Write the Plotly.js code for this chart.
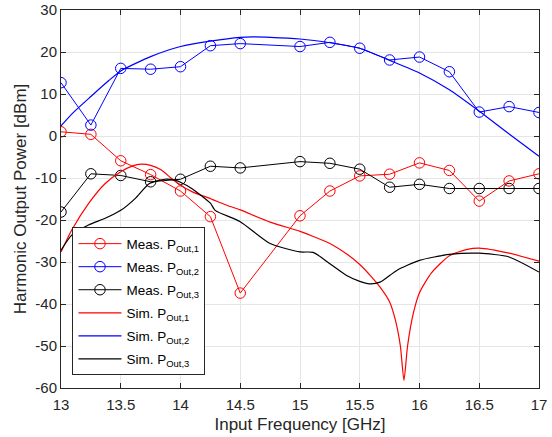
<!DOCTYPE html>
<html>
<head>
<meta charset="utf-8">
<script src="https://cdn.plot.ly/plotly-3.0.1.min.js"></script>
<style>html,body{margin:0;padding:0;background:#fff;}#chart{width:552px;height:437px;}</style>
</head>
<body>
<div id="chart"></div>
<script>
// Measured frequencies (GHz)
const measFreq = [13, 13.25, 13.5, 13.75, 14, 14.25, 14.5, 15, 15.25, 15.5, 15.75, 16, 16.25, 16.5, 16.75, 17];
const measP1 = [1.0, 0.4, -5.9, -9.2, -13.1, -19.2, -37.4, -19.0, -13.1, -9.5, -9.1, -6.4, -8.2, -15.5, -10.7, -9.0];
const measP2 = [12.7, 2.6, 16.1, 15.9, 16.5, 21.5, 22.0, 21.3, 22.3, 20.9, 18.1, 18.8, 15.3, 5.7, 7.0, 5.6];
const measP3 = [-18.1, -9.0, -9.4, -10.9, -10.3, -7.2, -7.6, -6.1, -6.5, -7.9, -12.2, -11.5, -12.5, -12.5, -12.5, -12.5];

// Simulated curves
const simF1 = [13.0, 13.09, 13.23, 13.37, 13.5, 13.6, 13.67, 13.75, 13.84, 13.92, 14.0, 14.1, 14.25, 14.37, 14.5, 14.75, 15.0, 15.1, 15.25, 15.4, 15.5, 15.6, 15.67, 15.75, 15.8, 15.84, 15.87, 15.9, 15.95, 16.0, 16.1, 16.25, 16.4, 16.5, 16.75, 17.0];
const simP1 = [-27.6, -22.4, -16.1, -11.3, -8.5, -7.1, -6.7, -7.0, -8.1, -10.0, -11.7, -13.3, -14.9, -16.3, -17.6, -20.5, -22.7, -23.8, -25.6, -28.3, -30.6, -33.6, -36.0, -39.5, -44.0, -50.0, -58.2, -50.0, -42.0, -37.3, -32.6, -28.5, -27.0, -26.7, -27.9, -29.8];

const simF2 = [13.0, 13.1, 13.25, 13.4, 13.5, 13.75, 14.0, 14.25, 14.5, 14.6, 14.75, 15.0, 15.25, 15.5, 15.75, 16.0, 16.25, 16.5, 16.75, 17.0];
const simP2 = [2.4, 5.5, 9.4, 13.2, 15.5, 18.9, 21.3, 22.6, 23.5, 23.6, 23.5, 23.1, 22.2, 20.9, 18.0, 15.0, 11.0, 5.9, 0.5, -4.8];

const simF3 = [13.0, 13.09, 13.23, 13.37, 13.5, 13.62, 13.74, 13.87, 13.95, 14.0, 14.1, 14.25, 14.29, 14.5, 14.75, 15.0, 15.11, 15.25, 15.39, 15.5, 15.58, 15.67, 15.81, 16.0, 16.25, 16.5, 16.75, 17.0];
const simP3 = [-27.2, -23.6, -21.2, -19.6, -17.7, -14.9, -11.3, -10.3, -10.5, -11.0, -12.6, -16.0, -17.7, -20.4, -25.6, -27.6, -27.7, -30.4, -33.2, -34.6, -35.2, -34.8, -32.0, -29.6, -28.2, -27.9, -28.8, -32.4];

const xTicks = [13, 13.5, 14, 14.5, 15, 15.5, 16, 16.5, 17];
const xTickText = ['13', '13.5', '14', '14.5', '15', '15.5', '16', '16.5', '17'];
const yTicks = [-60, -50, -40, -30, -20, -10, 0, 10, 20, 30];
const yTickText = ['-60', '-50', '-40', '-30', '-20', '-10', '0', '10', '20', '30'];

const names = ['Meas. P<sub>Out,1</sub>', 'Meas. P<sub>Out,2</sub>', 'Meas. P<sub>Out,3</sub>',
               'Sim. P<sub>Out,1</sub>', 'Sim. P<sub>Out,2</sub>', 'Sim. P<sub>Out,3</sub>'];
const colors = ['#ff0000', '#0000ff', '#000000'];

const meas = [measP1, measP2, measP3];
const sims = [[simF1, simP1], [simF2, simP2], [simF3, simP3]];
const traces = [];
meas.forEach((m, i) => {
  traces.push({x: measFreq, y: m, type: 'scatter', mode: 'lines+markers', name: names[i],
    legendgroup: 'g' + i,
    line: {color: colors[i], width: 1},
    marker: {symbol: 'circle-open', size: 10.5, color: colors[i], line: {width: 1}}});
});
sims.forEach((s, i) => {
  traces.push({x: s[0], y: s[1], type: 'scatter', mode: 'lines', name: names[i + 3],
    legendgroup: 'g' + (i + 3),
    line: {color: colors[i], width: 1.2, shape: 'spline', smoothing: 0.6}});
});

const axisCommon = {
  showline: true, mirror: 'ticks', linecolor: '#262626', linewidth: 1,
  ticks: 'inside', ticklen: 5, tickcolor: '#262626',
  showgrid: true, gridcolor: '#e6e6e6', gridwidth: 1, zeroline: false,
  tickfont: {family: 'Liberation Sans, Arial, sans-serif', size: 15, color: '#262626'}
};

const layout = {
  width: 552, height: 437,
  margin: {l: 61, r: 13, t: 10, b: 49},
  paper_bgcolor: '#ffffff', plot_bgcolor: '#ffffff',
  showlegend: true,
  xaxis: Object.assign({}, axisCommon, {
    range: [13, 17], tickvals: xTicks, ticktext: xTickText, ticklabelstandoff: 3,
    title: {text: 'Input Frequency [GHz]', standoff: 6,
      font: {family: 'Liberation Sans, Arial, sans-serif', size: 17, color: '#262626'}}
  }),
  yaxis: Object.assign({}, axisCommon, {
    range: [-60, 30], tickvals: yTicks, ticktext: yTickText,
    title: {text: 'Harmonic Output Power [dBm]', standoff: 4,
      font: {family: 'Liberation Sans, Arial, sans-serif', size: 17, color: '#262626'}}
  }),
  legend: {
    x: 0.024, y: 0.425, xanchor: 'left', yanchor: 'top',
    bgcolor: '#ffffff', bordercolor: '#262626', borderwidth: 1,
    font: {family: 'Liberation Sans, Arial, sans-serif', size: 13.5, color: '#000000'},
    itemwidth: 43, tracegroupgap: 2.5
  }
};

Plotly.newPlot('chart', traces, layout, {displayModeBar: false, staticPlot: true});
</script>
</body>
</html>
